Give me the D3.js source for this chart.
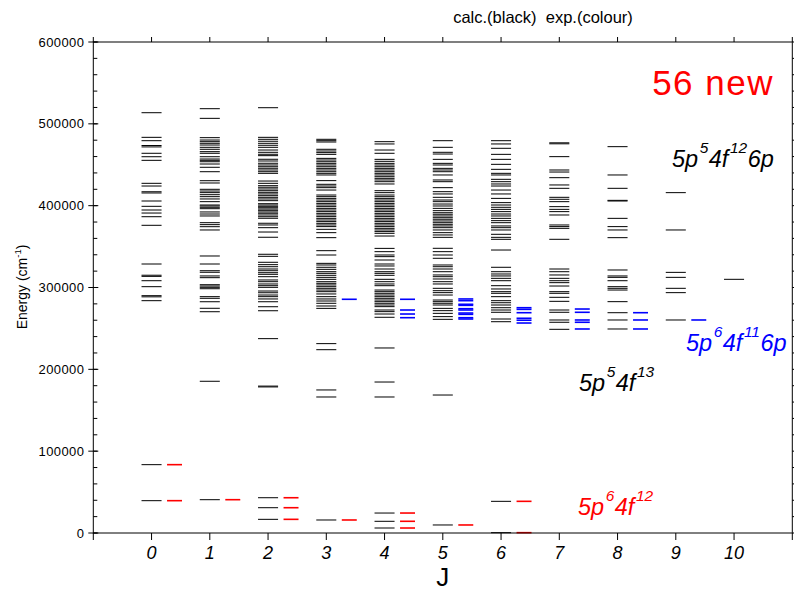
<!DOCTYPE html>
<html>
<head>
<meta charset="utf-8">
<script src="https://cdn.jsdelivr.net/npm/d3@7/dist/d3.min.js"></script>
<style>
  html, body { margin: 0; padding: 0; background: #fff; }
  svg { display: block; }
  text { font-family: "Liberation Sans", Arial, Helvetica, sans-serif; }
</style>
</head>
<body>
<svg id="chart" width="794" height="591"></svg>
<script>
// ---------------- DATA ----------------
const jValues = [0, 1, 2, 3, 4, 5, 6, 7, 8, 9, 10];
const yTickValues = [0, 100000, 200000, 300000, 400000, 500000, 600000];

// calculated levels (cm-1) per J
const calcJ0 = [513600, 483500, 479400, 473500, 471800, 464000, 459800, 455400, 427300, 424000, 417000, 415500,
  405700, 399200, 394700, 391000, 386500, 376000, 328700, 315000, 313600, 308300, 301000, 290000, 288600, 283900,
  83500, 39500];
const calcJ1 = [518500, 506700, 483100, 480200, 478200, 476200, 474100, 471300, 468900, 466000, 464000, 459800,
  457000, 455400, 453700, 450900, 446900, 441500, 430500, 427700, 420000, 417900, 415900, 413400, 411000, 408200,
  404900, 400800, 399600, 398000, 396300, 392300, 389800, 387400, 379200, 376800, 374300, 370300, 338500, 328700,
  320500, 318600, 314100, 312000, 303400, 301800, 300200, 298500, 288800, 286800, 282600, 274600, 270400,
  185400, 40700];
const calcJ2 = [519700, 483500, 481100, 478700, 476200, 473800, 471300, 468000, 465200, 462800, 461100, 456700,
  454600, 451800, 449700, 447600, 445700, 443600, 441500, 439500, 430100, 427300, 424400, 422500, 420400, 418300,
  416300, 414300, 412200, 410200, 408200, 406100, 402400, 400800, 399200, 397500, 395900, 394300, 392300, 390700,
  388600, 386500, 384600, 378500, 376400, 373100, 367800, 361400, 340600, 338100, 330800, 327900, 325400, 322600,
  320500, 318100, 316100, 313200, 309200, 307100, 304300, 302200, 300200, 295700, 293600, 290800, 288800, 286000,
  282600, 276500, 271600, 237500, 179500, 178500, 43100, 30900, 16700];
const calcJ3 = [481100, 479400, 477800, 468900, 466800, 464800, 462700, 457800, 455800, 453700, 451700, 449700,
  447600, 445600, 443600, 441500, 439500, 437500, 430600, 426100, 424000, 422000, 419100, 413000, 411000, 408900,
  406900, 404900, 402800, 400800, 398800, 396700, 394700, 392700, 390600, 388600, 386600, 384500, 382500, 380500,
  378400, 376400, 374400, 371100, 367000, 360900, 345000, 339700, 329500, 327500, 324700, 322200, 319300, 317300,
  314900, 312400, 310000, 307100, 305100, 303100, 301000, 299000, 296900, 294900, 292100, 288800, 286000, 283500,
  280700, 277400, 274500, 231400, 224000, 174800, 166200, 15900];
const calcJ4 = [478200, 475400, 468000, 464000, 456600, 454200, 451700, 449700, 447600, 445600, 443600, 441500,
  439500, 437500, 435400, 433400, 431400, 429300, 426500, 418300, 415900, 413000, 411000, 408900, 406900, 404900,
  402800, 400800, 398800, 396700, 394700, 392700, 390600, 388600, 386600, 384500, 382500, 380500, 378400, 376400,
  374400, 372300, 370300, 368300, 366200, 362900, 347800, 343800, 339700, 337700, 333600, 328700, 326300, 322600,
  319300, 317300, 314900, 310000, 307100, 304300, 302200, 296900, 294900, 292900, 290800, 288800, 286800, 284700,
  282700, 280700, 278600, 276600, 272500, 270500, 267600, 263600, 226100, 184500, 166200, 24400, 14300, 6100];
const calcJ5 = [479400, 471300, 465200, 463100, 456600, 451700, 449700, 445600, 443600, 441500, 437500, 431400,
  429300, 422000, 417100, 414300, 410200, 406900, 404900, 402000, 399600, 396700, 393900, 391400, 389500, 387400,
  385300, 383400, 381300, 379200, 377200, 375200, 373100, 370300, 367000, 364200, 361300, 347900, 343800, 339700,
  335700, 327500, 325400, 322600, 319300, 315300, 313200, 310400, 307100, 304300, 299000, 296100, 293700, 290800,
  284700, 282700, 280700, 278600, 274500, 271700, 268400, 264400, 261100, 168600, 9800];
const calcJ6 = [479400, 475400, 470100, 462700, 456600, 450500, 444400, 439500, 437500, 432200, 429300, 426500,
  424000, 419100, 414300, 408900, 403700, 400800, 398000, 395500, 392700, 389800, 387400, 384500, 381700, 379200,
  375200, 373100, 370300, 365000, 361300, 358900, 345800, 324700, 319300, 316500, 314100, 311200, 308300, 302200,
  298200, 294900, 292900, 288800, 283900, 281400, 278600, 275300, 272500, 269700, 261500, 258200, 38700, 400];
const calcJ7 = [476800, 475600, 459900, 443600, 441100, 434200, 425300, 421200, 410200, 407800, 404900, 398800,
  395500, 392700, 388600, 376400, 374400, 372300, 358900, 322600, 319300, 315300, 311200, 308300, 305900, 301800,
  294900, 292900, 288000, 283100, 272500, 269700, 260300, 257500, 248900];
const calcJ8 = [472100, 437500, 421200, 406500, 405700, 384500, 374400, 370300, 360900, 321400, 314100, 312400,
  308300, 301000, 299000, 296900, 282700, 269200, 260300, 249300];
const calcJ9 = [415900, 370300, 318500, 312400, 299000, 293700, 260300];
const calcJ10 = [310000];

// experimental levels [J, E]: ground configuration (red) and 5p6 4f11 6p (blue)
const expRed = [[0, 83500], [0, 39500], [1, 40700], [2, 43100], [2, 30900], [2, 16700], [3, 15900],
  [4, 24400], [4, 14300], [4, 6100], [5, 9800], [6, 38700], [6, 400]];
const expBlue = [[3, 285600], [4, 285600], [4, 272500], [4, 267600], [4, 263100],
  [5, 286000], [5, 283900], [5, 279500], [5, 278200], [5, 274100], [5, 272500], [5, 268800], [5, 267200], [5, 263100], [5, 261500],
  [6, 275300], [6, 273300], [6, 269200], [6, 262400], [6, 260000], [6, 256600],
  [7, 273700], [7, 269700], [7, 260300], [7, 257500], [7, 249300],
  [8, 269200], [8, 260300], [8, 249300], [9, 260300]];

const calcByJ = [calcJ0, calcJ1, calcJ2, calcJ3, calcJ4, calcJ5, calcJ6, calcJ7, calcJ8, calcJ9, calcJ10];

// ---------------- CHART ----------------
(function () {
const svg = d3.select("#chart");
const pL = 93.3, pR = 792.3, pT = 42, pB = 533;

const x = d3.scaleLinear().domain([-1, 11]).range([pL, pR]);
const y = d3.scaleLinear().domain([0, 600000]).range([pB, pT]);

const calcFlat = [];
calcByJ.forEach((arr, j) => arr.forEach(e => calcFlat.push([j, e])));

// calculated levels (black)
svg.append("g").selectAll("line").data(calcFlat).join("line")
  .attr("x1", d => x(d[0] - 0.172)).attr("x2", d => x(d[0] + 0.172))
  .attr("y1", d => y(d[1])).attr("y2", d => y(d[1]))
  .attr("stroke", "#000").attr("stroke-width", 1);

// experimental levels
svg.append("g").selectAll("line").data(expRed).join("line")
  .attr("x1", d => x(d[0] + 0.266)).attr("x2", d => x(d[0] + 0.523))
  .attr("y1", d => y(d[1])).attr("y2", d => y(d[1]))
  .attr("stroke", "#ff0000").attr("stroke-width", 1.6);
svg.append("g").selectAll("line").data(expBlue).join("line")
  .attr("x1", d => x(d[0] + 0.266)).attr("x2", d => x(d[0] + 0.523))
  .attr("y1", d => y(d[1])).attr("y2", d => y(d[1]))
  .attr("stroke", "#0000ff").attr("stroke-width", 1.6);

// frame
svg.append("rect").attr("x", pL).attr("y", pT)
  .attr("width", pR - pL).attr("height", pB - pT)
  .attr("fill", "none").attr("stroke", "#000").attr("stroke-width", 1);

// x ticks (bottom, outward) and top ticks
const xTickAll = d3.range(-1, 12);
svg.append("g").selectAll("line").data(xTickAll).join("line")
  .attr("x1", d => x(d)).attr("x2", d => x(d))
  .attr("y1", pB).attr("y2", pB + 7)
  .attr("stroke", "#000");
svg.append("g").selectAll("line").data(xTickAll).join("line")
  .attr("x1", d => x(d)).attr("x2", d => x(d))
  .attr("y1", pT).attr("y2", pT - 5)
  .attr("stroke", "#000");

// x tick labels
svg.append("g").selectAll("text").data(jValues).join("text")
  .attr("x", d => x(d)).attr("y", 559)
  .attr("text-anchor", "middle")
  .attr("font-size", 18).attr("font-style", "italic")
  .text(d => d);

// y axis ticks
const yMinor = d3.range(0, 600001, 20000);
svg.append("g").selectAll("line").data(yMinor).join("line")
  .attr("x1", pL).attr("x2", pL + 4)
  .attr("y1", d => y(d)).attr("y2", d => y(d))
  .attr("stroke", "#000");
svg.append("g").selectAll("line").data(yTickValues).join("line")
  .attr("x1", pL - 5).attr("x2", pL + 5)
  .attr("y1", d => y(d)).attr("y2", d => y(d))
  .attr("stroke", "#000");
svg.append("g").selectAll("line").data(yMinor).join("line")
  .attr("x1", pR).attr("x2", pR + 4)
  .attr("y1", d => y(d)).attr("y2", d => y(d))
  .attr("stroke", "#000");

svg.append("g").selectAll("text").data(yTickValues).join("text")
  .attr("x", pL - 9).attr("y", d => y(d) + 4.5)
  .attr("text-anchor", "end")
  .attr("font-size", 13).attr("letter-spacing", 0.4)
  .text(d => d);

// axis titles
svg.append("text").attr("x", x(5)).attr("y", 586)
  .attr("text-anchor", "middle").attr("font-size", 26).text("J");

const yl = svg.append("text")
  .attr("transform", "translate(27,287) rotate(-90)")
  .attr("text-anchor", "middle").attr("font-size", 14);
yl.append("tspan").text("Energy (cm");
yl.append("tspan").attr("dy", -6).attr("font-size", 9.5).text("-1");
yl.append("tspan").attr("dy", 6).text(")");

// title
svg.append("text").attr("x", 543).attr("y", 23)
  .attr("text-anchor", "middle").attr("font-size", 16.5)
  .attr("xml:space", "preserve")
  .text("calc.(black)  exp.(colour)");

// "56 new"
svg.append("text").attr("x", 774).attr("y", 95)
  .attr("text-anchor", "end").attr("font-size", 35).attr("letter-spacing", 1.5)
  .attr("fill", "#ff0000")
  .attr("font-family", "'Comic Sans MS', 'DejaVu Sans', sans-serif")
  .text("56 new");

// configuration labels
function config(xp, yp, parts, color) {
  const t = svg.append("text").attr("x", xp).attr("y", yp)
    .attr("font-size", 23.5).attr("font-style", "italic").attr("fill", color);
  let raised = false;
  parts.forEach(p => {
    if (p.sup) {
      t.append("tspan").attr("dy", -14).attr("dx", 1.5).attr("font-size", 15.5).text(p.s);
      raised = true;
    } else {
      const ts = t.append("tspan").text(p.s);
      if (raised) { ts.attr("dy", 14).attr("dx", 0.5); raised = false; }
    }
  });
}
config(672, 167, [{s: "5p"}, {s: "5", sup: 1}, {s: "4f"}, {s: "12", sup: 1}, {s: "6p"}], "#000");
config(686, 351, [{s: "5p"}, {s: "6", sup: 1}, {s: "4f"}, {s: "11", sup: 1}, {s: "6p"}], "#0000ff");
config(579, 391, [{s: "5p"}, {s: "5", sup: 1}, {s: "4f"}, {s: "13", sup: 1}], "#000");
config(578, 515, [{s: "5p"}, {s: "6", sup: 1}, {s: "4f"}, {s: "12", sup: 1}], "#ff0000");
})();
</script>
</body>
</html>
